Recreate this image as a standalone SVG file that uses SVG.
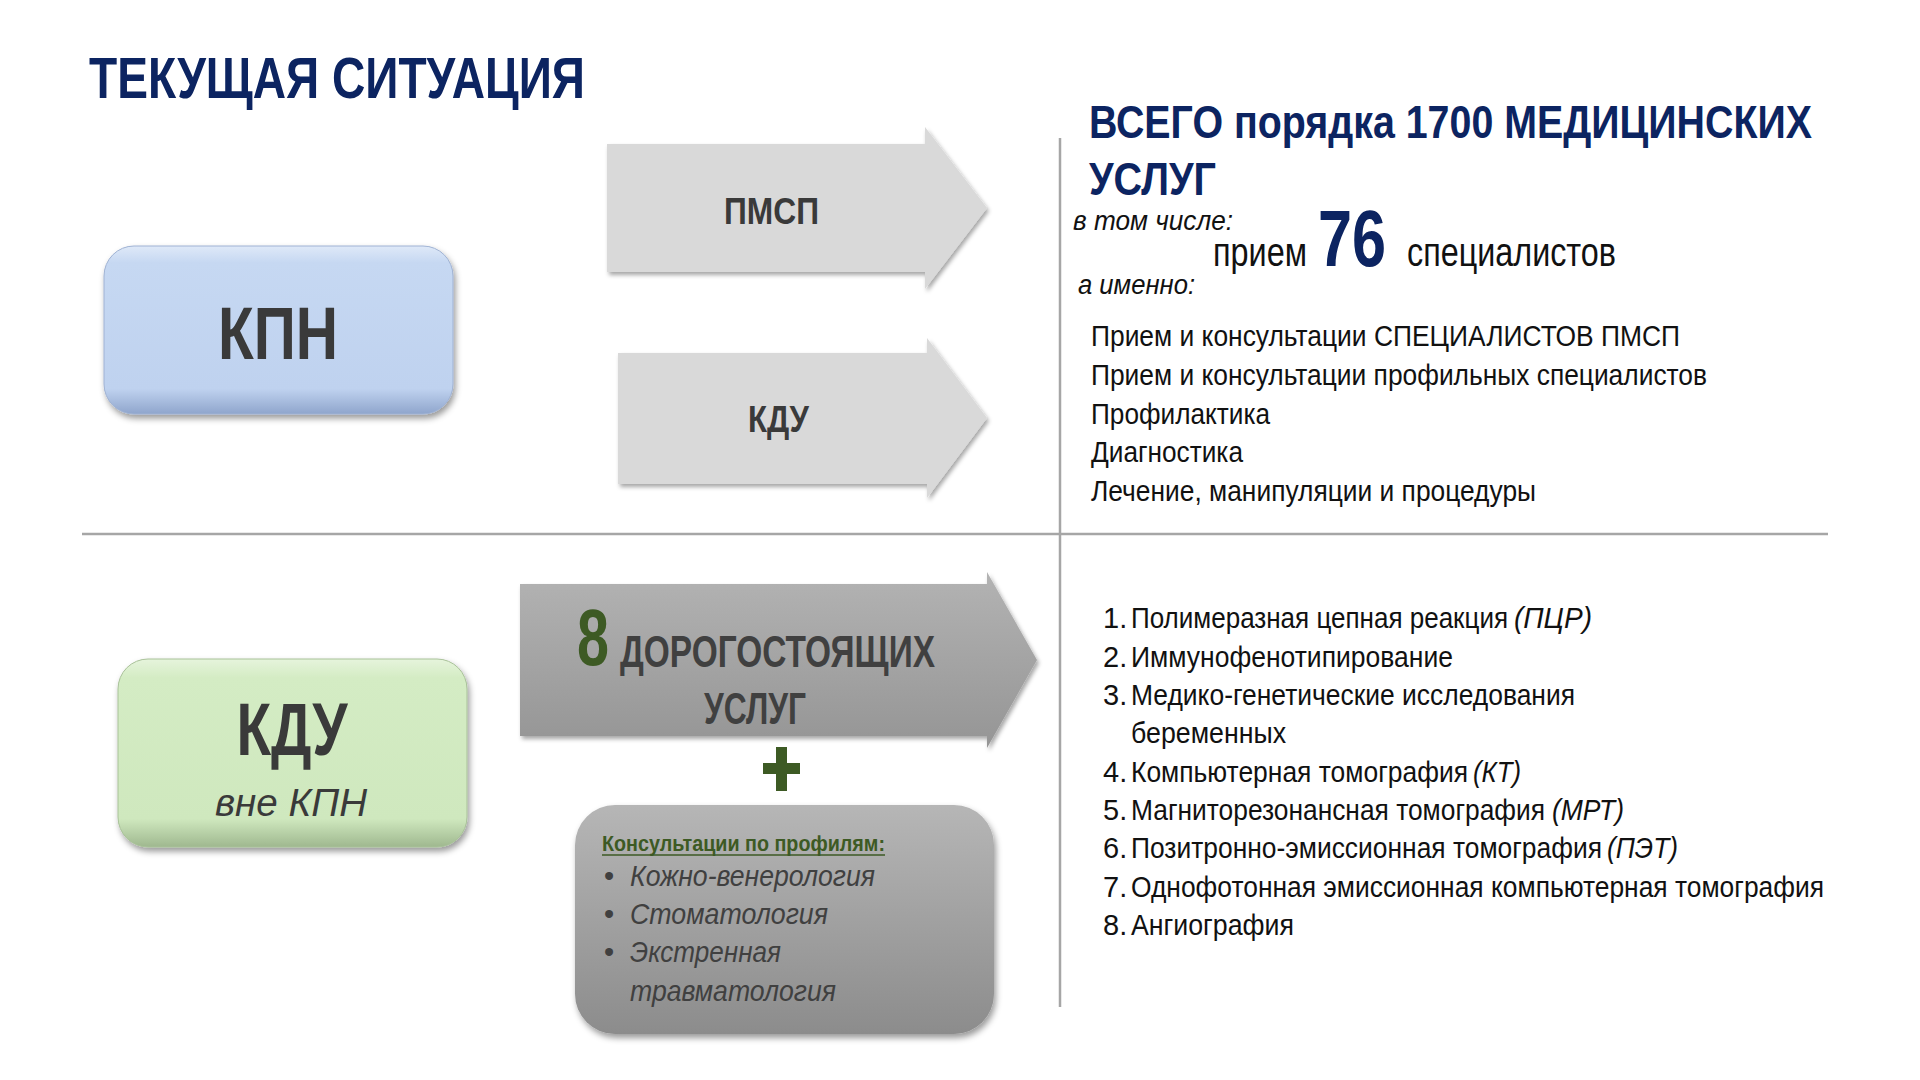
<svg xmlns="http://www.w3.org/2000/svg" width="1920" height="1080" viewBox="0 0 1920 1080">
<style>
  text { font-family: "Liberation Sans", Arial, sans-serif; }
  .navy { fill: #0c2461; font-weight: bold; }
  .dark { fill: #3a3a3a; font-weight: bold; }
  .body { fill: #111111; font-size: 29px; }
  .it { font-style: italic; }
  .green { fill: #3d5a24; }
  .div { stroke: #a6a6a6; stroke-width: 2.5; fill: none; }
</style>
<defs>
  <filter id="sh" x="-10%" y="-10%" width="125%" height="130%">
    <feDropShadow dx="2" dy="4" stdDeviation="3" flood-color="#000" flood-opacity="0.4"/>
  </filter>
  <filter id="shA" x="-10%" y="-10%" width="125%" height="130%">
    <feDropShadow dx="2" dy="3" stdDeviation="2" flood-color="#000" flood-opacity="0.35"/>
  </filter>
  <linearGradient id="gBlue" x1="0" y1="0" x2="0" y2="1">
    <stop offset="0" stop-color="#dfe9f8"/>
    <stop offset="0.1" stop-color="#c6d8f2"/>
    <stop offset="0.85" stop-color="#bfd2ef"/>
    <stop offset="1" stop-color="#8fa5cc"/>
  </linearGradient>
  <linearGradient id="gGreen" x1="0" y1="0" x2="0" y2="1">
    <stop offset="0" stop-color="#e6f4dc"/>
    <stop offset="0.1" stop-color="#d4ecc4"/>
    <stop offset="0.85" stop-color="#cfe8be"/>
    <stop offset="1" stop-color="#9fb88f"/>
  </linearGradient>
  <linearGradient id="gArrow" x1="0" y1="0" x2="0" y2="1">
    <stop offset="0" stop-color="#b3b3b3"/>
    <stop offset="1" stop-color="#959595"/>
  </linearGradient>
  <linearGradient id="gBox" x1="0" y1="0" x2="0" y2="1">
    <stop offset="0" stop-color="#b6b6b6"/>
    <stop offset="1" stop-color="#8c8c8c"/>
  </linearGradient>
</defs>

<rect width="1920" height="1080" fill="#ffffff"/>

<text id="title" x="89" y="98" class="navy" font-size="58" textLength="496" lengthAdjust="spacingAndGlyphs">ТЕКУЩАЯ СИТУАЦИЯ</text>

<g id="dividers">
  <line class="div" x1="82" y1="534" x2="1828" y2="534"/>
  <line class="div" x1="1060" y1="138" x2="1060" y2="1007"/>
</g>

<g id="node-kpn">
  <rect x="104" y="246" width="349" height="168" rx="30" fill="url(#gBlue)" stroke="#9fb2d3" stroke-width="1" filter="url(#sh)"/>
  <text x="278" y="359" text-anchor="middle" class="dark" font-size="74" textLength="120" lengthAdjust="spacingAndGlyphs">КПН</text>
</g>

<g id="node-kdu-outside">
  <rect x="118" y="659" width="349" height="188" rx="30" fill="url(#gGreen)" stroke="#a8c198" stroke-width="1" filter="url(#sh)"/>
  <text x="292" y="755" text-anchor="middle" class="dark" font-size="74" textLength="111" lengthAdjust="spacingAndGlyphs">КДУ</text>
  <text x="291" y="816" text-anchor="middle" class="it" fill="#3a3a3a" font-size="38" textLength="152" lengthAdjust="spacingAndGlyphs">вне КПН</text>
</g>

<g id="connectors">
  <g id="arrow-pmsp">
    <polygon points="607,144 925,144 925,127 987,208 925,289 925,272 607,272" fill="#d9d9d9" filter="url(#shA)"/>
    <text x="724" y="224" class="dark" font-size="37" textLength="95" lengthAdjust="spacingAndGlyphs">ПМСП</text>
  </g>
  <g id="arrow-kdu">
    <polygon points="618,353 927,353 927,338 987,418 927,498 927,484 618,484" fill="#d9d9d9" filter="url(#shA)"/>
    <text x="748" y="432" class="dark" font-size="37" textLength="61" lengthAdjust="spacingAndGlyphs">КДУ</text>
  </g>
  <g id="arrow-8">
    <polygon points="520,584 987,584 987,572 1037,660 987,748 987,736 520,736" fill="url(#gArrow)" filter="url(#shA)"/>
    <text x="577" y="665" class="green" font-weight="bold" font-size="80" textLength="32" lengthAdjust="spacingAndGlyphs">8</text>
    <text x="620" y="667" fill="#404040" font-weight="bold" font-size="44" textLength="315" lengthAdjust="spacingAndGlyphs">ДОРОГОСТОЯЩИХ</text>
    <text x="704" y="724" fill="#404040" font-weight="bold" font-size="44" textLength="102" lengthAdjust="spacingAndGlyphs">УСЛУГ</text>
  </g>
  <g id="plus" fill="#3d5a24">
    <rect x="763" y="763" width="37" height="11"/>
    <rect x="776" y="747" width="11" height="44"/>
  </g>
</g>

<g id="node-consult">
  <rect x="575" y="805" width="419" height="229" rx="40" fill="url(#gBox)" filter="url(#sh)"/>
  <text x="602" y="851" class="green" font-weight="bold" font-size="22" textLength="283" lengthAdjust="spacingAndGlyphs">Консультации по профилям:</text>
  <line x1="602" y1="855" x2="885" y2="855" stroke="#3d5a24" stroke-width="1.5"/>
  <g fill="#404040" font-size="29">
    <text x="604" y="886">•</text>
    <text x="604" y="924">•</text>
    <text x="604" y="962">•</text>
    <text x="630" y="886" class="it" textLength="245" lengthAdjust="spacingAndGlyphs">Кожно-венерология</text>
    <text x="630" y="924" class="it" textLength="198" lengthAdjust="spacingAndGlyphs">Стоматология</text>
    <text x="630" y="962" class="it" textLength="151" lengthAdjust="spacingAndGlyphs">Экстренная</text>
    <text x="630" y="1001" class="it" textLength="206" lengthAdjust="spacingAndGlyphs">травматология</text>
  </g>
</g>

<g id="node-total">
  <text transform="translate(1089,138) scale(1,1.237)" x="0" y="0" class="navy" font-size="38" textLength="723" lengthAdjust="spacingAndGlyphs">ВСЕГО порядка 1700 МЕДИЦИНСКИХ</text>
  <text x="1089" y="195" class="navy" font-size="47" textLength="127" lengthAdjust="spacingAndGlyphs">УСЛУГ</text>
  <text x="1073" y="230" class="it" fill="#111" font-size="27" textLength="160" lengthAdjust="spacingAndGlyphs">в том числе:</text>
  <text x="1213" y="266" fill="#111" font-size="40" textLength="94" lengthAdjust="spacingAndGlyphs">прием</text>
  <text x="1318" y="266" class="navy" font-size="80" textLength="68" lengthAdjust="spacingAndGlyphs">76</text>
  <text x="1407" y="266" fill="#111" font-size="40" textLength="209" lengthAdjust="spacingAndGlyphs">специалистов</text>
  <text x="1078" y="294" class="it" fill="#111" font-size="27" textLength="117" lengthAdjust="spacingAndGlyphs">а именно:</text>
</g>

<g id="node-services">
  <text x="1091" y="346" class="body" textLength="589" lengthAdjust="spacingAndGlyphs">Прием и консультации СПЕЦИАЛИСТОВ ПМСП</text>
  <text x="1091" y="385" class="body" textLength="616" lengthAdjust="spacingAndGlyphs">Прием и консультации профильных специалистов</text>
  <text x="1091" y="424" class="body" textLength="179" lengthAdjust="spacingAndGlyphs">Профилактика</text>
  <text x="1091" y="462" class="body" textLength="152" lengthAdjust="spacingAndGlyphs">Диагностика</text>
  <text x="1091" y="501" class="body" textLength="445" lengthAdjust="spacingAndGlyphs">Лечение, манипуляции и процедуры</text>
</g>

<g id="node-expensive">
  <text x="1103" y="628" class="body">1.</text>
  <text x="1131" y="628" class="body" textLength="377" lengthAdjust="spacingAndGlyphs">Полимеразная цепная реакция</text>
  <text x="1514" y="628" class="body it" textLength="78" lengthAdjust="spacingAndGlyphs">(ПЦР)</text>
  <text x="1103" y="667" class="body">2.</text>
  <text x="1131" y="667" class="body" textLength="322" lengthAdjust="spacingAndGlyphs">Иммунофенотипирование</text>
  <text x="1103" y="705" class="body">3.</text>
  <text x="1131" y="705" class="body" textLength="444" lengthAdjust="spacingAndGlyphs">Медико-генетические исследования</text>
  <text x="1131" y="743" class="body" textLength="155" lengthAdjust="spacingAndGlyphs">беременных</text>
  <text x="1103" y="782" class="body">4.</text>
  <text x="1131" y="782" class="body" textLength="337" lengthAdjust="spacingAndGlyphs">Компьютерная томография</text>
  <text x="1473" y="782" class="body it" textLength="48" lengthAdjust="spacingAndGlyphs">(КТ)</text>
  <text x="1103" y="820" class="body">5.</text>
  <text x="1131" y="820" class="body" textLength="414" lengthAdjust="spacingAndGlyphs">Магниторезонансная томография</text>
  <text x="1552" y="820" class="body it" textLength="72" lengthAdjust="spacingAndGlyphs">(МРТ)</text>
  <text x="1103" y="858" class="body">6.</text>
  <text x="1131" y="858" class="body" textLength="471" lengthAdjust="spacingAndGlyphs">Позитронно-эмиссионная томография</text>
  <text x="1607" y="858" class="body it" textLength="71" lengthAdjust="spacingAndGlyphs">(ПЭТ)</text>
  <text x="1103" y="897" class="body">7.</text>
  <text x="1131" y="897" class="body" textLength="693" lengthAdjust="spacingAndGlyphs">Однофотонная эмиссионная компьютерная томография</text>
  <text x="1103" y="935" class="body">8.</text>
  <text x="1131" y="935" class="body" textLength="163" lengthAdjust="spacingAndGlyphs">Ангиография</text>
</g>
</svg>
